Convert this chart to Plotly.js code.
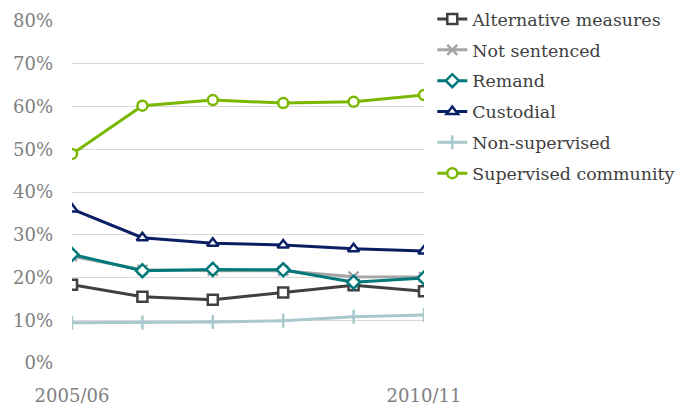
<!DOCTYPE html>
<html>
<head>
<meta charset="utf-8">
<script src="https://cdn.plot.ly/plotly-3.0.1.min.js"></script>
<style>
  body { margin: 0; background: #fff; }
  #chart { width: 684px; height: 410px; }
</style>
</head>
<body>
<div id="chart"></div>
<script>
const years = ['2005/06', '2006/07', '2007/08', '2008/09', '2009/10', '2010/11'];

const alternative = [0.183, 0.155, 0.148, 0.165, 0.182, 0.168];
const notSentenced = [0.250, 0.218, 0.216, 0.216, 0.202, 0.201];
const remand = [0.254, 0.216, 0.219, 0.218, 0.189, 0.199];
const custodial = [0.360, 0.293, 0.280, 0.276, 0.267, 0.262];
const nonSupervised = [0.094, 0.095, 0.096, 0.099, 0.108, 0.112];
const supervised = [0.489, 0.602, 0.615, 0.608, 0.611, 0.627];

const mk = (name, y, color, symbol, fill) => ({
  x: years,
  y: y,
  name: name,
  legendgroup: name,
  type: 'scatter',
  mode: 'lines+markers',
  line: { color: color, width: 3 },
  marker: {
    symbol: symbol,
    size: 10,
    color: fill,
    line: { color: color, width: 2.5 }
  }
});

const traces = [
  mk('Alternative measures', alternative, '#404040', 'square', '#ffffff'),
  mk('Not sentenced', notSentenced, '#a6a6a6', 'x-thin', '#a6a6a6'),
  mk('Remand', remand, '#00787a', 'diamond', '#ffffff'),
  mk('Custodial', custodial, '#0b1f65', 'triangle-up', '#ffffff'),
  mk('Non-supervised', nonSupervised, '#a9c9cc', 'cross-thin', '#a9c9cc'),
  mk('Supervised community', supervised, '#7ab800', 'circle', '#ffffff')
];

const layout = {
  width: 684,
  height: 410,
  margin: { l: 72, r: 260, t: 21, b: 47 },
  paper_bgcolor: '#ffffff',
  plot_bgcolor: '#ffffff',
  font: { family: 'DejaVu Serif, serif', size: 18, color: '#808080' },
  showlegend: true,
  legend: {
    xref: 'container',
    yref: 'container',
    x: 0.632,
    y: 0.997,
    xanchor: 'left',
    yanchor: 'top',
    font: { color: '#404040', size: 17.4 },
    tracegroupgap: 5.2
  },
  xaxis: {
    type: 'category',
    range: [0, 5],
    tickvals: ['2005/06', '2010/11'],
    ticktext: ['2005/06', '2010/11'],
    showgrid: false,
    zeroline: false,
    showline: false,
    ticks: '',
    ticklen: 0,
    ticklabelstandoff: 20,
    tickfont: { color: '#808080', size: 18 }
  },
  yaxis: {
    range: [0, 0.8],
    dtick: 0.1,
    tickformat: '.0%',
    gridcolor: '#d9d9d9',
    gridwidth: 1,
    zeroline: false,
    showline: false,
    ticks: '',
    ticklabelstandoff: 18,
    tickfont: { color: '#808080', size: 18 }
  }
};

Plotly.newPlot('chart', traces, layout, { displayModeBar: false, staticPlot: true });
</script>
</body>
</html>
